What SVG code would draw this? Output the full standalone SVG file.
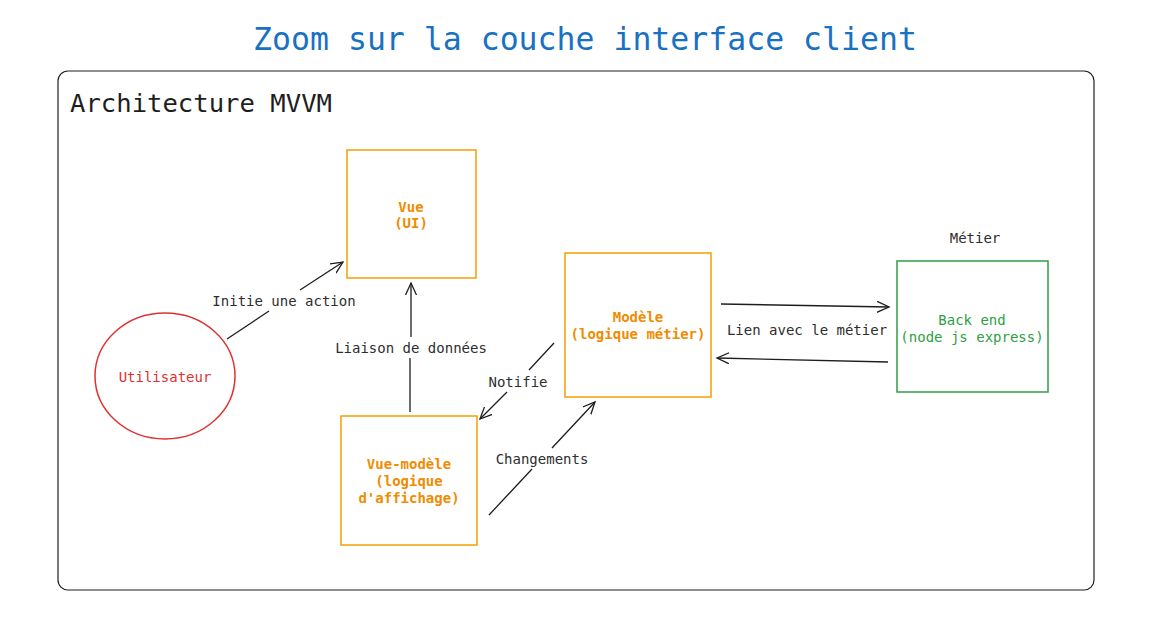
<svg xmlns="http://www.w3.org/2000/svg" width="1168" height="632" viewBox="0 0 1168 632">
<style>
text{font-family:"DejaVu Sans Mono","Liberation Mono",monospace;text-anchor:middle}
.lbl{font-size:14px;fill:#2e2e2e}
.org{font-size:14px;fill:#f08c00;font-weight:bold}
.org rect{fill:none;stroke:#f59f00;stroke-width:1.5}
.edge{fill:none;stroke:#1e1e1e;stroke-width:1.3;marker-end:url(#arr)}
</style>
<defs>
<marker id="arr" markerUnits="userSpaceOnUse" markerWidth="14" markerHeight="14" refX="12" refY="6" orient="auto">
<path d="M0,0.5 L12,6 L0,11.5" fill="none" stroke="#1e1e1e" stroke-width="1.3"/>
</marker>
</defs>
<rect width="1168" height="632" fill="#ffffff"/>
<text x="585" y="50" style="font-size:31.5px;fill:#1971c2">Zoom sur la couche interface client</text>
<g id="frame">
<rect x="58" y="71" width="1036" height="519" rx="10" fill="none" stroke="#1e1e1e" stroke-width="1.2"/>
<text x="70" y="112" style="font-size:25.6px;fill:#1e1e1e;text-anchor:start">Architecture MVVM</text>
</g>
<g id="connectors">
<path class="edge" d="M227,339 L269,311 M300,290 L343,262"/>
<text class="lbl" x="284" y="306">Initie une action</text>
<path class="edge" d="M410,412 L410,358 M411,337 L411,283"/>
<text class="lbl" x="411" y="353">Liaison de données</text>
<path class="edge" d="M554,343 L529,370 M507,392 L480,419"/>
<text class="lbl" x="518" y="387">Notifie</text>
<path class="edge" d="M489,515 L532,469 M552,448 L595,402"/>
<text class="lbl" x="542" y="464">Changements</text>
<path class="edge" d="M721,304 L889,307"/>
<path class="edge" d="M888,362 L717,358"/>
<text class="lbl" x="807" y="335">Lien avec le métier</text>
</g>
<g id="vue" class="org">
<rect x="347" y="150" width="129" height="128"/>
<text x="411" y="212">Vue</text>
<text x="411" y="228">(UI)</text>
</g>
<g id="modele" class="org">
<rect x="565" y="253" width="146" height="144"/>
<text x="638" y="322">Modèle</text>
<text x="638" y="339">(logique métier)</text>
</g>
<g id="vuemodele" class="org">
<rect x="341" y="416" width="136" height="129"/>
<text x="409" y="469">Vue-modèle</text>
<text x="409" y="486">(logique</text>
<text x="409" y="503">d'affichage)</text>
</g>
<g id="backend">
<text class="lbl" x="975" y="243">Métier</text>
<rect x="897" y="261" width="151" height="131" fill="none" stroke="#2f9e44" stroke-width="1.5"/>
<text x="972" y="325" style="font-size:14px;fill:#2f9e44">Back end</text>
<text x="972" y="342" style="font-size:14px;fill:#2f9e44">(node js express)</text>
</g>
<g id="utilisateur">
<ellipse cx="165" cy="376" rx="70" ry="63" fill="none" stroke="#e03131" stroke-width="1.5"/>
<text x="165" y="382" style="font-size:14px;fill:#e03131">Utilisateur</text>
</g>
</svg>
